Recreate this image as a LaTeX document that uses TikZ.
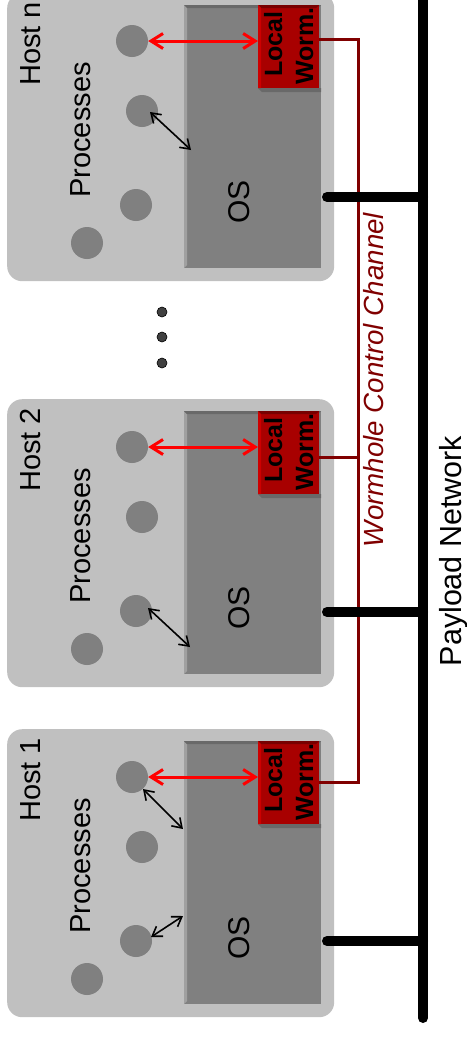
\documentclass[tikz,border=0pt]{standalone}
\usepackage{fontspec}
\setmainfont{Liberation Sans}
\usetikzlibrary{arrows.meta}
\definecolor{hostgray}{RGB}{192,192,192}
\definecolor{osgray}{RGB}{128,128,128}
\definecolor{osdark}{RGB}{105,105,105}
\definecolor{oslight}{RGB}{160,160,160}
\definecolor{wormred}{RGB}{168,0,0}
\definecolor{wormdark}{RGB}{120,0,0}
\definecolor{wormlight}{RGB}{205,0,0}
\definecolor{chanred}{RGB}{128,0,0}
\definecolor{dotgray}{RGB}{64,64,64}
\newcommand\drawhost[3]{%
\begin{scope}[shift={(0,#1)}]
  \node[hostbox, anchor=north west] (#2box) at (7,0) {};
  \node[osbox, anchor=north west] (#2os) at (184,12) {};
  \fill[oslight] (184,12) -- (187,15) -- (187,272) -- (184,275) -- cycle;
  \fill[osdark] (184,12) -- (321,12) -- (318,15) -- (187,15) -- cycle;
  \fill[osdark] (258,95) -- (321,95) -- (321,99) -- (262,99) -- cycle;
  \node[lwbox, anchor=north west] (#2lw) at (258,12) {};
  \fill[wormdark] (258,12) -- (319,12) -- (316,15) -- (261,15) -- cycle;
  \fill[wormlight] (258,12) -- (261,15) -- (261,95) -- (258,95) -- cycle;
  \node[lwtext] (#2lwa) at (282,51) {Local};
  \node[lwtext] (#2lwb) at (313,53) {Worm.};
  \node[ostext] (#2ost) at (249,209) {OS};
  \node[labtext] (#2lab) at (40,51) {#3};
  \node[labtext] (#2proc) at (90,137) {Processes};
  \node[proc] (#2c1) at (132,48) {};
  \node[proc] (#2c2) at (142,118) {};
  \node[proc] (#2c3) at (136,212) {};
  \node[proc] (#2c4) at (87,250) {};
  \draw[redarr] (#2c1) -- (#2c1 -| #2lw.west);
\end{scope}}
\begin{document}
\begin{tikzpicture}[x=1pt,y=-1pt,
  hostbox/.style={fill=hostgray, rounded corners=15pt, minimum width=327pt, minimum height=288pt, inner sep=0pt, draw=none},
  osbox/.style={fill=osgray, minimum width=137pt, minimum height=263pt, inner sep=0pt},
  lwbox/.style={fill=wormred, minimum width=61pt, minimum height=83pt, inner sep=0pt},
  lwtext/.style={rotate=90, anchor=base, inner sep=0pt, font=\bfseries\fontsize{25}{30}\selectfont},
  ostext/.style={rotate=90, anchor=base, inner sep=0pt, font=\fontsize{30}{36}\selectfont},
  labtext/.style={rotate=90, anchor=base, inner sep=0pt, font=\fontsize{29}{35}\selectfont},
  proc/.style={circle, fill=osgray, minimum size=32pt, inner sep=0pt},
  redarr/.style={draw=red, line width=3pt, {Straight Barb[length=12pt,width=15pt]}-{Straight Barb[length=12pt,width=15pt]}},
  blkarr/.style={draw=black, line width=1.6pt, {Straight Barb[length=9pt,width=12pt]}-{Straight Barb[length=9pt,width=12pt]}},
  chan/.style={draw=chanred, line width=3pt},
  pay/.style={draw=black, line width=10pt, line cap=round},
  dotnode/.style={circle, fill=dotgray, draw=black, line width=0.6pt, minimum size=10pt, inner sep=0pt}
]
\useasboundingbox (0,0) rectangle (466,1039);
\clip (0,0) rectangle (466,1039);
\fill[white] (0,0) rectangle (466,1039);

% hosts
\drawhost{729}{ha}{Host 1}
\drawhost{399}{hb}{Host 2}
\drawhost{-7}{hn}{Host n}

% black arrows (process <-> OS)
\coordinate (ha1s) at (143,789);  \coordinate (ha1e) at (183,829);
\coordinate (ha2s) at (151,937);  \coordinate (ha2e) at (183,916);
\coordinate (hb1s) at (148,608);  \coordinate (hb1e) at (190,647);
\coordinate (hn1s) at (150,112);  \coordinate (hn1e) at (191,150);
\draw[blkarr] (ha1s) -- (ha1e);
\draw[blkarr] (ha2s) -- (ha2e);
\draw[blkarr] (hb1s) -- (hb1e);
\draw[blkarr] (hn1s) -- (hn1e);

% dots
\node[dotnode] (d1) at (162,312) {};
\node[dotnode] (d2) at (162,337) {};
\node[dotnode] (d3) at (162,363) {};

% wormhole control channel
\coordinate (chn) at (358,39);
\coordinate (chb) at (358,457);
\coordinate (cha) at (358,782);
\draw[chan] (hnlw.east |- chn) -- (chn) -- (cha) -- (halw.east |- cha);
\draw[chan] (hblw.east |- chb) -- (chb);
\node[rotate=90, anchor=base, inner sep=0pt, text=chanred, font=\itshape\fontsize{27.7}{33}\selectfont] (wcc) at (383,380) {Wormhole Control Channel};

% payload network
\coordinate (ptop) at (423,-10);
\coordinate (pbot) at (423,1018);
\draw[pay] (ptop) -- (pbot);
\coordinate (pa) at (423,941);  \coordinate (pas) at (327,941);
\coordinate (pb) at (423,612);  \coordinate (pbs) at (327,612);
\coordinate (pn) at (423,197);  \coordinate (pns) at (327,197);
\draw[pay] (pas) -- (pa);
\draw[pay] (pbs) -- (pb);
\draw[pay] (pns) -- (pn);
\node[rotate=90, anchor=base, inner sep=0pt, font=\fontsize{30.5}{36}\selectfont] (pnet) at (461,551) {Payload Network};
\end{tikzpicture}
\end{document}
